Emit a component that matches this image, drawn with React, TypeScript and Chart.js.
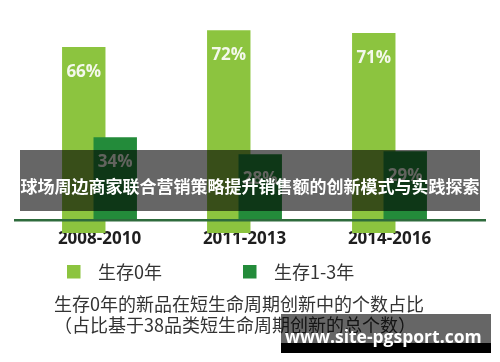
import React, { useEffect, useRef } from "react";
import { Chart, registerables } from "chart.js";

Chart.register(...registerables);

// ---- data ----
const periods = ["2008-2010", "2011-2013", "2014-2016"];
const survive0 = [66, 72, 71];
const survive1to3 = [34, 28, 29];
const seriesNames = ["生存0年", "生存1-3年"];
const noteLines = [
  "生存0年的新品在短生命周期创新中的个数占比",
  "（占比基于38品类短生命周期创新的总个数）",
];
const bannerText = "球场周边商家联合营销策略提升销售额的创新模式与实践探索";
const watermarkText = "www.site-pgsport.com";

// ---- styles ----
const LIGHT = "#8cc43f";
const DARK = "#238b3a";
const AXIS_LINE = "#2e6b3c";
const CJK = "'Noto Sans CJK SC', 'Noto Sans', sans-serif";
const LATIN = "'Open Sans', 'Noto Sans', sans-serif";

const decorPlugin = {
  id: "decor",
  // draw the first series underneath the second one
  beforeDatasetsDraw(chart: any) {
    chart.getDatasetMeta(0).controller.draw();
  },
  beforeDatasetDraw(_chart: any, args: any) {
    if (args.index === 0) return false;
  },
  afterDatasetsDraw(chart: any) {
    const ctx = chart.ctx;
    const { left, right, bottom } = chart.chartArea;
    ctx.save();
    ctx.strokeStyle = AXIS_LINE;
    ctx.lineWidth = 2.5;
    ctx.beginPath();
    ctx.moveTo(left - 13, bottom + 1.3);
    ctx.lineTo(right + 24, bottom + 1.3);
    ctx.stroke();

    ctx.font = `bold 17px ${LATIN}`;
    ctx.textAlign = "center";
    ctx.textBaseline = "middle";
    ctx.fillStyle = "#f4f8ec";
    chart.data.datasets.forEach((ds: any, di: number) => {
      chart.getDatasetMeta(di).data.forEach((bar: any, i: number) => {
        ctx.fillText(`${ds.data[i]}%`, bar.x, bar.y + 25);
      });
    });
    ctx.restore();
  },
  afterDraw(chart: any) {
    const ctx = chart.ctx;
    const { left, bottom } = chart.chartArea;
    ctx.save();
    ctx.textBaseline = "middle";
    ctx.textAlign = "left";
    ctx.font = `18px ${CJK}`;
    const legendX = [left + 40, left + 216];
    const legendY = bottom + 53;
    chart.data.datasets.forEach((ds: any, di: number) => {
      ctx.fillStyle = ds.backgroundColor;
      ctx.fillRect(legendX[di], legendY - 7, 13.5, 13.5);
      ctx.fillStyle = "#333333";
      ctx.fillText(ds.label, legendX[di] + 31, legendY);
    });
    ctx.fillStyle = "#333333";
    noteLines.forEach((line, i) => {
      ctx.fillText(line, left + 27, bottom + 85 + i * 21);
    });
    ctx.restore();
  },
};

export default function App() {
  const canvasRef = useRef<HTMLCanvasElement | null>(null);

  useEffect(() => {
    if (!canvasRef.current) return;
    const chart = new Chart(canvasRef.current, {
      type: "bar",
      data: {
        labels: periods,
        datasets: [
          {
            label: seriesNames[0],
            data: survive0,
            backgroundColor: LIGHT,
            categoryPercentage: 0.434,
            barPercentage: 1.38,
          },
          {
            label: seriesNames[1],
            data: survive1to3,
            backgroundColor: DARK,
            categoryPercentage: 0.434,
            barPercentage: 1.38,
          },
        ],
      },
      options: {
        animation: false,
        responsive: false,
        devicePixelRatio: 1,
        layout: { padding: { top: 9, left: 27, right: 38, bottom: 0 } },
        plugins: {
          legend: { display: false },
          tooltip: { enabled: false },
          title: { display: false },
        },
        scales: {
          x: {
            grid: { display: false, drawTicks: false },
            border: { display: false },
            ticks: {
              color: "#1e1e1e",
              padding: 10,
              font: { family: LATIN, size: 17, weight: "bold" },
            },
            afterFit: (scale: any) => {
              scale.height = 143;
            },
          },
          y: {
            display: false,
            min: 5,
            max: 79.5,
          },
        },
      },
      plugins: [decorPlugin],
    });
    return () => chart.destroy();
  }, []);

  return (
    <div
      style={{
        position: "fixed",
        left: 0,
        top: 0,
        width: 500,
        height: 362,
        background: "#ffffff",
        overflow: "hidden",
      }}
    >
      <canvas ref={canvasRef} width={500} height={362} style={{ display: "block" }} />
      <div
        style={{
          position: "absolute",
          left: 20,
          top: 150,
          width: 460,
          height: 61,
          boxSizing: "border-box",
          paddingTop: 9,
          background: "rgba(0,0,0,0.6)",
          color: "#ffffff",
          fontFamily: CJK,
          fontWeight: 700,
          fontSize: 17,
          whiteSpace: "nowrap",
          display: "flex",
          alignItems: "center",
          justifyContent: "center",
          pointerEvents: "none",
        }}
      >
        {bannerText}
      </div>
      <div
        style={{
          position: "absolute",
          left: 281,
          top: 314,
          width: 210,
          height: 29,
          background: "rgba(0,0,0,0.6)",
          pointerEvents: "none",
        }}
      />
      <div
        style={{
          position: "absolute",
          left: 281,
          top: 343,
          width: 210,
          height: 10,
          background: "#000000",
          pointerEvents: "none",
        }}
      />
      <div
        style={{
          position: "absolute",
          left: 285,
          top: 322,
          height: 29,
          lineHeight: "29px",
          color: "#ffffff",
          fontFamily: LATIN,
          fontWeight: 700,
          fontSize: 17.5,
          whiteSpace: "nowrap",
          pointerEvents: "none",
        }}
      >
        {watermarkText}
      </div>
    </div>
  );
}
